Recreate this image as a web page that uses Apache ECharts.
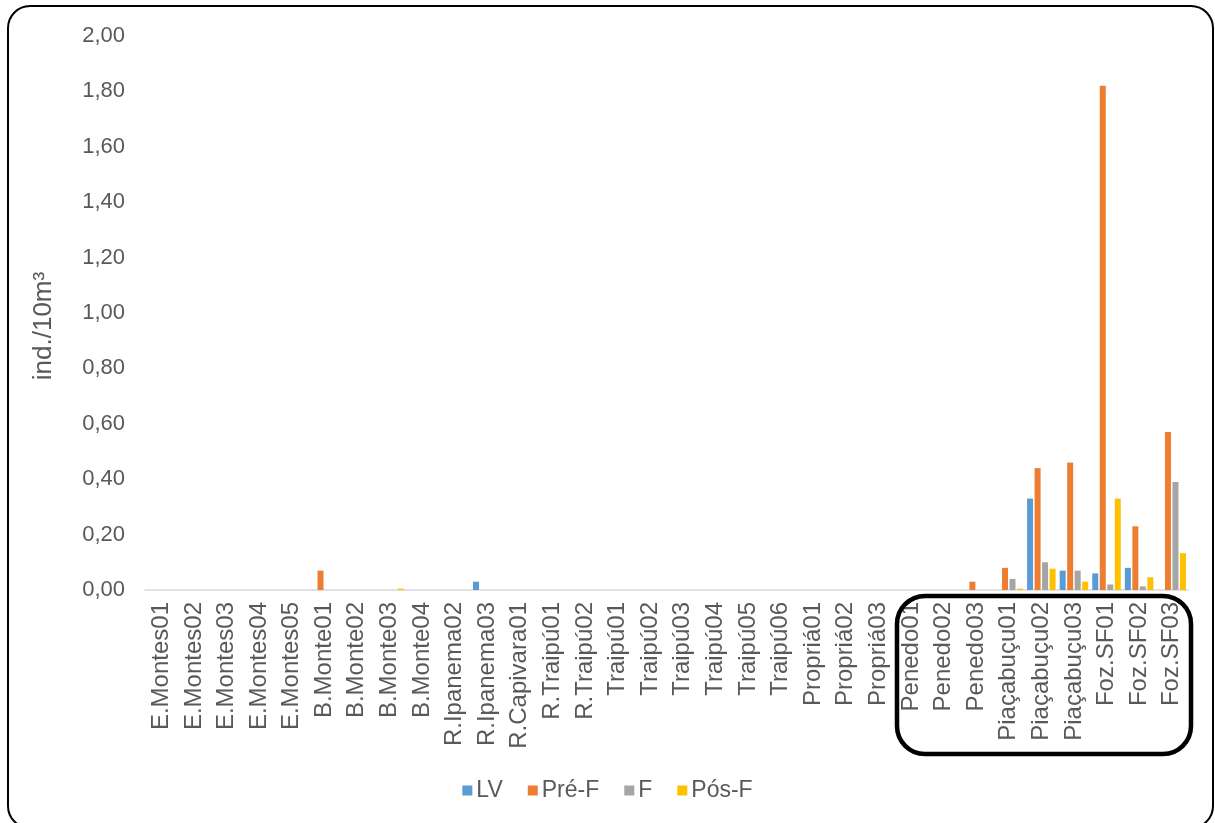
<!DOCTYPE html>
<html>
<head>
<meta charset="utf-8">
<script src="https://cdn.jsdelivr.net/npm/echarts@6/dist/echarts.min.js"></script>
<style>
  html, body { margin: 0; padding: 0; background: #fff; }
  #chart { width: 1215px; height: 823px; }
</style>
</head>
<body>
<div id="chart"></div>
<script>
// Sampling stations along the river
const categories = [
  'E.Montes01', 'E.Montes02', 'E.Montes03', 'E.Montes04', 'E.Montes05',
  'B.Monte01', 'B.Monte02', 'B.Monte03', 'B.Monte04',
  'R.Ipanema02', 'R.Ipanema03', 'R.Capivara01', 'R.Traipú01', 'R.Traipú02',
  'Traipú01', 'Traipú02', 'Traipú03', 'Traipú04', 'Traipú05', 'Traipú06',
  'Propriá01', 'Propriá02', 'Propriá03',
  'Penedo01', 'Penedo02', 'Penedo03',
  'Piaçabuçu01', 'Piaçabuçu02', 'Piaçabuçu03',
  'Foz.SF01', 'Foz.SF02', 'Foz.SF03'
];

// Density (ind./10m³) per developmental stage
const lv = [
  0, 0, 0, 0, 0,
  0, 0, 0, 0,
  0, 0.03, 0, 0, 0,
  0, 0, 0, 0, 0, 0,
  0, 0, 0,
  0, 0, 0,
  0, 0.33, 0.07,
  0.06, 0.08, 0
];
const preF = [
  0, 0, 0, 0, 0,
  0.07, 0, 0, 0,
  0, 0, 0, 0, 0,
  0, 0, 0, 0, 0, 0,
  0, 0, 0,
  0, 0, 0.03,
  0.08, 0.44, 0.46,
  1.82, 0.23, 0.57
];
const fStage = [
  0, 0, 0, 0, 0,
  0, 0, 0, 0,
  0, 0, 0, 0, 0,
  0, 0, 0, 0, 0, 0,
  0, 0, 0,
  0, 0, 0,
  0.04, 0.10, 0.07,
  0.02, 0.013, 0.39
];
const posF = [
  0, 0, 0, 0, 0,
  0, 0, 0.005, 0,
  0, 0, 0, 0, 0,
  0, 0, 0, 0, 0, 0,
  0, 0, 0,
  0, 0, 0,
  0.005, 0.077, 0.03,
  0.33, 0.046, 0.133
];

const seriesNames = ['LV', 'Pré-F', 'F', 'Pós-F'];
const seriesColors = ['#5B9BD5', '#ED7D31', '#A5A5A5', '#FFC000'];
const seriesData = [lv, preF, fStage, posF];

const FONT = '"Liberation Sans", Arial, sans-serif';
const TEXT = '#595959';

const chart = echarts.init(document.getElementById('chart'), null, { renderer: 'canvas' });

chart.setOption({
  backgroundColor: '#fff',
  animation: false,
  textStyle: { fontFamily: FONT },
  grid: { left: 145, right: 27, top: 36, bottom: 233, containLabel: false },
  legend: {
    data: seriesNames,
    bottom: 16,
    left: 'center',
    icon: 'rect',
    itemWidth: 10,
    itemHeight: 10,
    itemGap: 25,
    textStyle: { color: TEXT, fontSize: 23, fontFamily: FONT, padding: [0, 0, 0, -1] }
  },
  xAxis: {
    type: 'category',
    data: categories,
    axisLine: { lineStyle: { color: '#D9D9D9', width: 1.5 } },
    axisTick: { show: false },
    axisLabel: {
      rotate: 90,
      interval: 0,
      margin: 12,
      color: TEXT,
      fontSize: 24,
      fontFamily: FONT
    }
  },
  yAxis: {
    type: 'value',
    min: 0,
    max: 2,
    interval: 0.2,
    name: 'ind./10m³',
    nameLocation: 'middle',
    nameRotate: 90,
    nameGap: 88,
    nameTextStyle: { color: TEXT, fontSize: 26, fontFamily: FONT, padding: [0, 26, 0, 0] },
    axisLine: { show: false },
    axisTick: { show: false },
    splitLine: { show: false },
    axisLabel: {
      color: TEXT,
      fontSize: 22,
      fontFamily: FONT,
      margin: 20,
      formatter: v => v.toFixed(2).replace('.', ',')
    }
  },
  series: seriesNames.map((name, i) => ({
    name,
    type: 'bar',
    data: seriesData[i],
    barWidth: 6,
    barGap: '25%',
    itemStyle: { color: seriesColors[i] }
  })),
  graphic: [
    {
      // outer chart frame
      type: 'rect',
      shape: { x: 8, y: 6, width: 1205, height: 822, r: 22 },
      style: { fill: null, stroke: '#000', lineWidth: 2 },
      silent: true,
      z: 100
    },
    {
      // highlight box around the lower-river stations
      type: 'rect',
      shape: { x: 897, y: 596, width: 294, height: 158, r: 28 },
      style: { fill: null, stroke: '#000', lineWidth: 4.5 },
      silent: true,
      z: 100
    }
  ]
});
</script>
</body>
</html>
